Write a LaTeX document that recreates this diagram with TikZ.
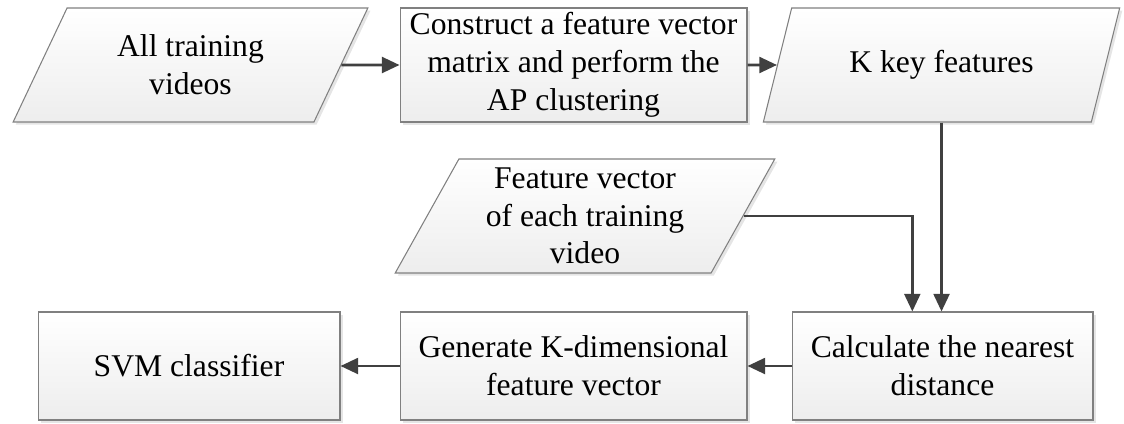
\documentclass[tikz,border=0pt]{standalone}
\usepackage{fontspec}
\setmainfont{Liberation Serif}
\usepackage{tikz}
\usetikzlibrary{arrows.meta,calc,positioning,shapes.geometric,shadows}
\definecolor{edgegray}{RGB}{128,128,128}
\definecolor{arrowgray}{RGB}{64,64,64}
\begin{document}
\begin{tikzpicture}[x=0.02cm,y=-0.02cm,font=\fontsize{18}{21.5}\selectfont,
  base/.style={draw=edgegray,line width=0.6pt,top color=white,bottom color=gray!14,align=center,inner sep=2pt,
    drop shadow={shadow xshift=1.5pt,shadow yshift=-1.5pt,fill=gray!40,opacity=0.5}},
  procbox/.style={base,rectangle,minimum height=2.28cm},
  iobox/.style={base,trapezium,trapezium left angle=63.4,trapezium right angle=116.6,trapezium stretches=true,minimum height=2.28cm},
  flow/.style={arrowgray,line width=1.5pt,-{Triangle[length=10pt,width=9pt]}}]
\useasboundingbox (0,0) rectangle (1124,423);
\node[iobox,minimum width=7.1cm] (vids) at (190.5,65) {All training\\videos};
\node[procbox,minimum width=6.94cm] (cons) at (573.5,65) {Construct a feature vector\\matrix and perform the\\AP clustering};
\node[iobox,minimum width=7.14cm] (keyf) at (941.5,65) {K key features};
\node[iobox,minimum width=7.6cm] (fvec) at (585,216) {Feature vector\\of each training\\video};
\node[procbox,minimum width=6.02cm,minimum height=2.16cm] (calc) at (942.5,366) {Calculate the nearest\\distance};
\node[procbox,minimum width=6.94cm,minimum height=2.16cm] (gen) at (573.5,366) {Generate K-dimensional\\feature vector};
\node[procbox,minimum width=6.04cm,minimum height=2.16cm] (svm) at (189,366) {SVM classifier};
\coordinate (calcin) at ($(calc.north west)!0.4!(calc.north east)$);
\draw[flow] (vids) -- (cons);
\draw[flow] (cons) -- (keyf);
\draw[flow] (keyf.south) -- (keyf.south |- calc.north);
\draw[flow] (fvec.east) -| (calcin);
\draw[flow] (calc) -- (gen);
\draw[flow] (gen) -- (svm);
\end{tikzpicture}
\end{document}
